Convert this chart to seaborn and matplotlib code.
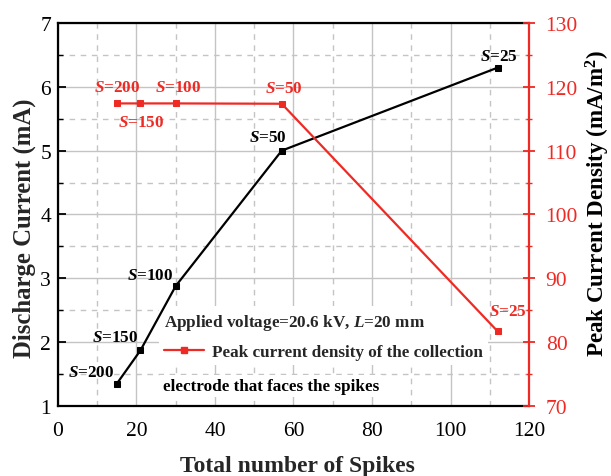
import matplotlib
matplotlib.use("Agg")
import matplotlib.pyplot as plt
from matplotlib.ticker import MultipleLocator
from matplotlib.lines import Line2D
import seaborn as sns
import pandas as pd

# Total number of spikes for each spike spacing S (mm)
spikes = [15, 21, 30, 57, 112]
spacing = [200, 150, 100, 50, 25]
# Discharge current (mA)
current = [1.35, 1.87, 2.88, 5.0, 6.3]
# Peak current density on the collection electrode (mA/m^2)
density = [117.4, 117.4, 117.4, 117.35, 81.7]

df = pd.DataFrame({"spikes": spikes, "spacing": spacing,
                   "current": current, "density": density})

RED = "#ee2a24"
GRID = "#c4c4c4"

sns.set_theme(style="white")
plt.rcParams["font.family"] = ["Liberation Serif", "DejaVu Serif"]
plt.rcParams["mathtext.fontset"] = "custom"
plt.rcParams["mathtext.rm"] = "Liberation Serif"
plt.rcParams["mathtext.it"] = "Liberation Serif:italic"
plt.rcParams["mathtext.bf"] = "Liberation Serif:bold"
plt.rcParams["mathtext.bfit"] = "Liberation Serif:bold:italic"

fig = plt.figure(figsize=(6.11, 4.77), dpi=100)
ax = fig.add_axes([0.0949, 0.1468, 0.7709, 0.8029])
ax2 = ax.twinx()

sns.lineplot(data=df, x="spikes", y="current", ax=ax, color="black",
             marker="s", markersize=5, linewidth=1.6,
             markeredgecolor="black", sort=False)
sns.lineplot(data=df, x="spikes", y="density", ax=ax2, color=RED,
             marker="s", markersize=5, linewidth=1.6,
             markeredgecolor=RED, sort=False)

ax.set_xlim(0, 120)
ax.set_ylim(1, 7)
ax2.set_ylim(70, 130)
ax.xaxis.set_major_locator(MultipleLocator(20))
ax.xaxis.set_minor_locator(MultipleLocator(10))
ax.yaxis.set_major_locator(MultipleLocator(1))
ax.yaxis.set_minor_locator(MultipleLocator(0.5))
ax2.yaxis.set_major_locator(MultipleLocator(10))
ax2.yaxis.set_minor_locator(MultipleLocator(5))

ax.grid(which="major", color=GRID, linewidth=1.0, linestyle="-")
ax.grid(which="minor", color=GRID, linewidth=1.0, linestyle=(0, (4, 4)))
ax.set_axisbelow(True)

for side in ["left", "bottom", "top"]:
    ax.spines[side].set_color("black")
    ax.spines[side].set_linewidth(1.6)
    ax2.spines[side].set_visible(False)
ax.spines["right"].set_visible(False)
ax2.spines["right"].set_color(RED)
ax2.spines["right"].set_linewidth(1.6)

ax.tick_params(axis="both", which="both", direction="in", colors="black",
               labelsize=15.5, top=False, right=False)
ax.tick_params(axis="both", which="major", length=6, width=1.3)
ax.tick_params(axis="both", which="minor", length=3.5, width=1.0)
ax.tick_params(axis="x", which="major", pad=11)
ax.tick_params(axis="y", which="major", pad=5)
ax2.tick_params(axis="y", which="both", direction="inout", colors=RED,
                labelcolor=RED, labelsize=15.5)
ax2.tick_params(axis="y", which="major", length=8, width=1.3, pad=8)
ax2.tick_params(axis="y", which="minor", length=5, width=1.0)

ax.set_xlabel("Total number of Spikes", fontsize=17.0, fontweight="bold")
ax.set_ylabel("Discharge Current (mA)", fontsize=17.8, fontweight="bold")
ax2.set_ylabel(r"Peak Current Density (mA/m$^{\mathbf{2}}$)", fontsize=16.6,
               fontweight="bold", color="black")
ax.xaxis.set_label_coords(0.5075, -0.127)
ax.yaxis.set_label_coords(-0.046, 0.467)
ax2.yaxis.set_label_coords(1.116, 0.530)

# S labels next to each point
black_offsets = [(-26, 12), (-25, 13), (-26, 11), (-14, 14), (1, 12)]
red_offsets = [(0, 16), (1, -19), (2, 16), (2, 16), (10, 20)]
for s, x, yc, yd, ob, orr in zip(spacing, spikes, current, density,
                                 black_offsets, red_offsets):
    lab = r"$\mathbfit{S}$=" + str(s)
    ax.annotate(lab, (x, yc), xytext=ob, textcoords="offset pixels",
                ha="center", va="center", fontsize=12.3, fontweight="bold",
                color="black")
    ax2.annotate(lab, (x, yd), xytext=orr, textcoords="offset pixels",
                 ha="center", va="center", fontsize=12.3, fontweight="bold",
                 color=RED)

# Legend box sits above the grid but beneath both data lines
handle = Line2D([], [], color=RED, marker="s", markersize=5, linewidth=1.6)
leg = ax.legend([handle], ["Peak current density of the collection"],
                title=r"Applied voltage=20.6 kV, $\mathbfit{L}$=20 mm",
                loc="upper left", bbox_to_anchor=(0.215, 0.26),
                frameon=True, facecolor="white", edgecolor="none",
                fancybox=False, framealpha=1.0, handlelength=2.3,
                handletextpad=0.5, borderpad=0.3, borderaxespad=0,
                labelspacing=0.75,
                prop={"size": 12.3, "weight": "bold"},
                title_fontproperties={"size": 12.3, "weight": "bold"},
                alignment="left")
leg.set_zorder(1.5)
ax.text(0.222, 0.052, "electrode that faces the spikes",
        transform=ax.transAxes, fontsize=12.3, fontweight="bold",
        ha="left", va="center", color="black", zorder=1.5,
        bbox=dict(facecolor="white", edgecolor="none", pad=2))

fig.savefig("out.png", dpi=100)
